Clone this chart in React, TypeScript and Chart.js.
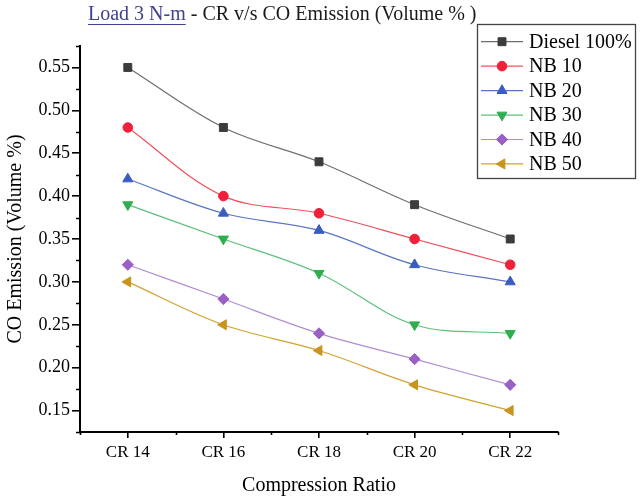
import React, { useEffect, useRef } from 'react';
import { Chart, registerables } from 'chart.js';
import { drawPoint } from 'chart.js/helpers';

Chart.register(...registerables);

const categories = ['CR 14', 'CR 16', 'CR 18', 'CR 20', 'CR 22'];
const seriesNames = ['Diesel 100%', 'NB 10', 'NB 20', 'NB 30', 'NB 40', 'NB 50'];
const diesel100 = [0.55, 0.48, 0.44, 0.39, 0.35];
const nb10 = [0.48, 0.40, 0.38, 0.35, 0.32];
const nb20 = [0.42, 0.38, 0.36, 0.32, 0.30];
const nb30 = [0.39, 0.35, 0.31, 0.25, 0.24];
const nb40 = [0.32, 0.28, 0.24, 0.21, 0.18];
const nb50 = [0.30, 0.25, 0.22, 0.18, 0.15];
const seriesValues = [diesel100, nb10, nb20, nb30, nb40, nb50];
const yMajorTicks = [0.15, 0.2, 0.25, 0.3, 0.35, 0.4, 0.45, 0.5, 0.55];
const yMinorTicks = [0.125, 0.175, 0.225, 0.275, 0.325, 0.375, 0.425, 0.475, 0.525, 0.575];

const lineColors = ['#6e6e6e', '#f0505c', '#5874c4', '#5cc07c', '#b08ed2', '#d2a232'];
const markerColors = ['#3c3c3c', '#f0203a', '#3a5cc0', '#2eae50', '#9a60c4', '#c8941e'];
const pointStyles = ['rect', 'circle', 'triangle', 'triangle', 'rectRot', 'triangle'];
const pointRotations = [0, 0, 0, 180, 0, 270];
const pointRadii = [5.6, 4.8, 5.8, 5.8, 5.6, 5.8];

const FONT = '"Liberation Serif", "DejaVu Serif", serif';

const decorPlugin = {
  id: 'decor',
  afterDraw(chart: any) {
    const ctx = chart.ctx;
    const area = chart.chartArea;
    const xs = chart.scales.x;
    const ys = chart.scales.y;
    ctx.save();
    // minor ticks
    ctx.strokeStyle = '#000';
    ctx.lineWidth = 1.6;
    ctx.beginPath();
    yMinorTicks.forEach((v) => {
      const py = Math.round(ys.getPixelForValue(v)) + 0.5;
      ctx.moveTo(area.left - 4, py);
      ctx.lineTo(area.left, py);
    });
    for (let i = 0; i <= categories.length; i++) {
      const px = Math.round(xs.getPixelForValue(i - 0.5)) + 0.5;
      ctx.moveTo(px, area.bottom);
      ctx.lineTo(px, area.bottom + 3);
    }
    ctx.stroke();

    // chart title
    ctx.font = `20px ${FONT}`;
    ctx.textBaseline = 'middle';
    ctx.textAlign = 'left';
    const t1 = 'Load 3 N-m';
    const t2 = ' - CR v/s CO Emission (Volume % )';
    const tx = 88;
    const ty = 15;
    ctx.fillStyle = '#3e4290';
    ctx.fillText(t1, tx, ty);
    const w1 = ctx.measureText(t1).width;
    ctx.strokeStyle = '#3e4290';
    ctx.lineWidth = 1;
    ctx.beginPath();
    ctx.moveTo(tx, ty + 9.5);
    ctx.lineTo(tx + w1, ty + 9.5);
    ctx.stroke();
    ctx.fillStyle = '#1a1a1a';
    ctx.fillText(t2, tx + w1, ty);

    // axis titles
    ctx.fillStyle = '#000';
    ctx.textAlign = 'center';
    ctx.fillText('Compression Ratio', (area.left + area.right) / 2, 486);
    ctx.save();
    ctx.translate(16, (area.top + area.bottom) / 2);
    ctx.rotate(-Math.PI / 2);
    ctx.fillText('CO Emission (Volume %)', 0, 0);
    ctx.restore();

    // legend
    const bx = 477, by = 24, bw = 158, bh = 154;
    ctx.fillStyle = '#fff';
    ctx.fillRect(bx, by, bw, bh);
    ctx.strokeStyle = '#444';
    ctx.lineWidth = 1.3;
    ctx.strokeRect(bx + 0.5, by + 0.5, bw, bh);
    chart.data.datasets.forEach((ds: any, i: number) => {
      const cy = 41.7 + i * 24.45;
      ctx.strokeStyle = ds.borderColor;
      ctx.lineWidth = 1.2;
      ctx.beginPath();
      ctx.moveTo(481, cy);
      ctx.lineTo(523, cy);
      ctx.stroke();
      ctx.fillStyle = ds.pointBackgroundColor;
      ctx.strokeStyle = ds.pointBorderColor;
      ctx.lineWidth = 1;
      drawPoint(ctx, {
        pointStyle: ds.pointStyle,
        rotation: ds.pointRotation,
        radius: ds.pointRadius,
        borderWidth: 1,
      } as any, 502, cy);
      ctx.fillStyle = '#000';
      ctx.textAlign = 'left';
      ctx.textBaseline = 'middle';
      ctx.font = `20px ${FONT}`;
      ctx.fillText(ds.label, 529, cy + 1);
    });
    ctx.restore();
  },
};

export default function App() {
  const ref = useRef<HTMLCanvasElement | null>(null);
  useEffect(() => {
    if (!ref.current) return;
    Chart.defaults.font.family = FONT;
    const chart = new Chart(ref.current, {
      type: 'line',
      data: {
        labels: categories,
        datasets: seriesNames.map((name, i) => ({
          label: name,
          data: seriesValues[i],
          borderColor: lineColors[i],
          borderWidth: 1.2,
          backgroundColor: markerColors[i],
          pointBackgroundColor: markerColors[i],
          pointBorderColor: markerColors[i],
          pointBorderWidth: 1,
          pointStyle: pointStyles[i] as any,
          pointRotation: pointRotations[i],
          pointRadius: pointRadii[i],
          tension: 0.35,
          fill: false,
        })),
      },
      options: {
        animation: false,
        responsive: false,
        layout: { padding: { top: 46, right: 82, left: 0, bottom: 0 } },
        plugins: {
          legend: { display: false },
          title: { display: false },
          tooltip: { enabled: false },
        },
        scales: {
          x: {
            type: 'category',
            offset: true,
            grid: {
              display: true,
              drawOnChartArea: false,
              drawTicks: true,
              tickLength: 6,
              offset: false,
              color: '#000',
              lineWidth: 1.6,
            },
            border: { display: true, color: '#000', width: 2 },
            ticks: {
              color: '#000',
              font: { size: 17, family: FONT },
              padding: 4,
              maxRotation: 0,
            },
            afterFit(scale: any) {
              scale.height = 71;
            },
          },
          y: {
            type: 'linear',
            min: 0.125,
            max: 0.575,
            afterBuildTicks(scale: any) {
              scale.ticks = yMajorTicks.map((v) => ({ value: v }));
            },
            grid: {
              display: true,
              drawOnChartArea: false,
              drawTicks: true,
              tickLength: 8,
              color: '#000',
              lineWidth: 1.6,
            },
            border: { display: true, color: '#000', width: 2 },
            ticks: {
              color: '#000',
              font: { size: 18, family: FONT },
              padding: 2,
              callback: (v: any) => Number(v).toFixed(2),
            },
            afterFit(scale: any) {
              scale.width = 80;
            },
          },
        },
      },
      plugins: [decorPlugin],
    });
    return () => chart.destroy();
  }, []);
  return (
    <div style={{ position: 'fixed', left: 0, top: 0, width: 640, height: 503, background: '#fff' }}>
      <canvas ref={ref} width={640} height={503} style={{ width: 640, height: 503 }} />
    </div>
  );
}
